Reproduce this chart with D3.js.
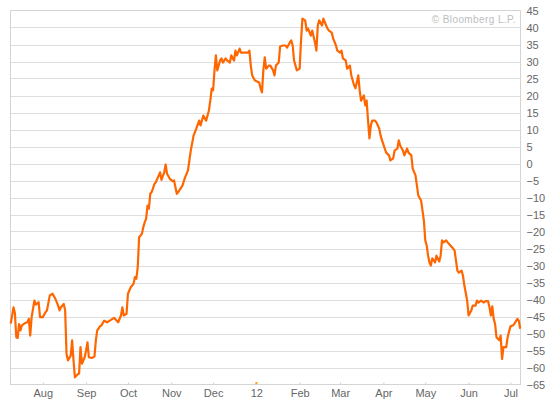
<!DOCTYPE html>
<html>
<head>
<meta charset="utf-8">
<script src="https://cdn.jsdelivr.net/npm/d3@7/dist/d3.min.js"></script>
<style>
  html, body { margin: 0; padding: 0; background: #fff; }
  svg { display: block; }
  text { font-family: "Liberation Sans", Arial, sans-serif; }
</style>
</head>
<body>
<svg id="chart" width="560" height="400"></svg>
<script>
// ---- data ----
const dates = [
"2011-07-09","2011-07-11","2011-07-12","2011-07-13","2011-07-14","2011-07-15","2011-07-16","2011-07-17","2011-07-19","2011-07-21",
"2011-07-22","2011-07-23","2011-07-24","2011-07-26","2011-07-27","2011-07-29","2011-07-30",
"2011-08-01","2011-08-03","2011-08-04","2011-08-06","2011-08-08","2011-08-10","2011-08-12","2011-08-13","2011-08-14","2011-08-16",
"2011-08-17","2011-08-18","2011-08-19","2011-08-21","2011-08-22","2011-08-23","2011-08-24","2011-08-26","2011-08-27","2011-08-28",
"2011-08-29","2011-08-31",
"2011-09-01","2011-09-02","2011-09-03","2011-09-05","2011-09-07","2011-09-08","2011-09-09","2011-09-11","2011-09-12","2011-09-14",
"2011-09-16","2011-09-18","2011-09-21","2011-09-24","2011-09-26","2011-09-27","2011-09-28","2011-09-30",
"2011-10-01","2011-10-03","2011-10-05","2011-10-06","2011-10-07","2011-10-08","2011-10-09","2011-10-11","2011-10-12","2011-10-13",
"2011-10-14","2011-10-15","2011-10-16","2011-10-17","2011-10-18","2011-10-20","2011-10-21","2011-10-22","2011-10-24","2011-10-25",
"2011-10-27","2011-10-28","2011-10-29","2011-10-31",
"2011-11-02","2011-11-03","2011-11-05","2011-11-06","2011-11-09","2011-11-11","2011-11-13","2011-11-15","2011-11-17","2011-11-19",
"2011-11-21","2011-11-22","2011-11-24","2011-11-26","2011-11-28","2011-11-29","2011-11-30",
"2011-12-01","2011-12-02","2011-12-03","2011-12-04","2011-12-06","2011-12-07","2011-12-08","2011-12-10","2011-12-11","2011-12-13",
"2011-12-14","2011-12-16","2011-12-17","2011-12-18","2011-12-20","2011-12-21","2011-12-24","2011-12-26","2011-12-27","2011-12-28",
"2011-12-29","2011-12-31",
"2012-01-03","2012-01-04","2012-01-05","2012-01-06","2012-01-07","2012-01-08","2012-01-10","2012-01-11","2012-01-13","2012-01-14",
"2012-01-15","2012-01-17","2012-01-18","2012-01-20","2012-01-22","2012-01-23","2012-01-25","2012-01-26","2012-01-27","2012-01-28",
"2012-01-30",
"2012-02-01","2012-02-02","2012-02-03","2012-02-05","2012-02-06","2012-02-07","2012-02-09","2012-02-10","2012-02-12","2012-02-13",
"2012-02-14","2012-02-15","2012-02-17","2012-02-18","2012-02-20","2012-02-21","2012-02-22","2012-02-24","2012-02-25","2012-02-27",
"2012-02-28","2012-03-01",
"2012-03-02","2012-03-03","2012-03-05","2012-03-06","2012-03-08","2012-03-09","2012-03-11","2012-03-12","2012-03-14","2012-03-15",
"2012-03-16","2012-03-18","2012-03-19","2012-03-20","2012-03-21","2012-03-22","2012-03-23","2012-03-24","2012-03-26","2012-03-27",
"2012-03-29","2012-03-30","2012-03-31",
"2012-04-02","2012-04-03","2012-04-05","2012-04-06","2012-04-08","2012-04-09","2012-04-11","2012-04-12","2012-04-13","2012-04-15",
"2012-04-16","2012-04-18","2012-04-19","2012-04-21","2012-04-22","2012-04-24","2012-04-25","2012-04-26","2012-04-28","2012-04-29",
"2012-04-30",
"2012-05-01","2012-05-02","2012-05-03","2012-05-04","2012-05-05","2012-05-06","2012-05-08","2012-05-09","2012-05-11","2012-05-12",
"2012-05-13","2012-05-14","2012-05-16","2012-05-17","2012-05-19","2012-05-21","2012-05-22","2012-05-24","2012-05-25","2012-05-27",
"2012-05-28","2012-05-29","2012-05-31",
"2012-06-01","2012-06-03","2012-06-04","2012-06-06","2012-06-07","2012-06-08","2012-06-10","2012-06-12","2012-06-13","2012-06-15",
"2012-06-16","2012-06-17","2012-06-18","2012-06-19","2012-06-20","2012-06-21","2012-06-23","2012-06-24","2012-06-25","2012-06-26",
"2012-06-28","2012-06-29",
"2012-07-01","2012-07-03","2012-07-04","2012-07-06","2012-07-07","2012-07-08"
];
const values = [
-47.1,-42.3,-44.0,-51.1,-51.3,-47.2,-49.1,-47.6,-47.0,-46.7,
-45.7,-50.6,-45.2,-40.3,-41.5,-40.8,-45.2,
-45.2,-43.7,-43.2,-38.8,-38.3,-39.8,-41.8,-43.2,-42.3,-41.3,
-43.2,-56.0,-57.9,-56.5,-52.0,-57.9,-62.9,-62.0,-61.8,-54.0,
-58.9,-57.0,
-55.0,-52.6,-57.0,-57.2,-56.8,-52.0,-49.1,-47.9,-47.6,-46.2,
-46.7,-46.2,-45.4,-46.7,-44.7,-42.3,-44.7,-44.2,
-38.3,-36.4,-35.4,-33.4,-33.9,-30.5,-21.7,-20.7,-18.7,-17.3,
-16.3,-12.4,-13.3,-8.9,-8.4,-6.0,-5.5,-4.5,-2.6,-4.8,
-2.6,-0.3,-3.0,-4.5,
-5.2,-5.0,-8.9,-8.4,-6.5,-4.0,-2.0,3.8,8.2,10.3,
12.6,11.2,14.1,12.6,15.6,18.5,22.0,
21.5,27.4,31.8,27.4,30.3,30.9,29.7,30.9,30.3,29.7,
31.8,30.3,33.2,31.8,33.8,32.6,32.6,32.6,33.2,28.8,
25.9,24.4,
23.8,22.1,20.9,27.4,31.2,27.9,28.8,28.8,27.4,25.9,
28.8,29.7,34.4,34.7,34.7,34.1,35.6,36.2,34.7,30.3,
27.4,
27.9,36.2,42.6,42.1,39.1,39.7,37.6,39.1,35.6,33.2,
40.6,42.1,40.6,42.6,40.6,39.7,39.1,38.5,36.8,34.7,
33.2,32.6,
33.2,30.9,30.3,27.9,28.8,25.9,23.0,22.1,25.9,21.5,
18.5,20.0,17.1,18.5,12.6,7.4,11.2,12.6,12.6,12.1,
10.3,8.2,6.8,
4.4,3.2,2.4,0.9,1.5,3.8,4.4,6.8,5.3,3.8,
2.4,4.4,3.2,2.4,-1.5,-3.5,-6.5,-9.4,-10.9,-13.8,
-16.8,
-22.6,-24.1,-27.1,-29.1,-30.0,-27.9,-29.1,-27.1,-28.8,-27.1,
-22.6,-23.2,-22.6,-23.2,-24.1,-25.0,-25.6,-31.5,-32.1,-31.5,
-33.0,-35.9,-40.3,
-44.7,-43.2,-41.8,-41.8,-40.3,-40.9,-40.3,-40.9,-40.5,-40.5,
-42.3,-44.7,-42.0,-45.7,-47.2,-51.1,-52.0,-50.6,-57.5,-54.0,
-54.0,-51.1,
-47.9,-47.6,-47.0,-45.7,-46.2,-48.6
];
const monthTicks = ["2011-08-01","2011-09-01","2011-10-01","2011-11-01","2011-12-01","2012-01-01",
                    "2012-02-01","2012-03-01","2012-04-01","2012-05-01","2012-06-01","2012-07-01"];
const monthLabels = ["Aug","Sep","Oct","Nov","Dec","12","Feb","Mar","Apr","May","Jun","Jul"];
const yTicks = [45,40,35,30,25,20,15,10,5,0,-5,-10,-15,-20,-25,-30,-35,-40,-45,-50,-55,-60,-65];
const sourceText = "\u00A9 Bloomberg L.P.";

// ---- chart ----
(function () {
const parse = d3.timeParse("%Y-%m-%d");
const data = dates.map((d, i) => ({ date: parse(d), value: values[i] }));

const pLeft = 10.5, pRight = 520.5, pTop = 10.5, pBottom = 384.5;
const svg = d3.select("#chart");

const x = d3.scaleTime()
  .domain([parse("2011-07-09"), parse("2012-07-08")])
  .range([10.7, 520.2]);
const y = d3.scaleLinear().domain([-65, 45]).range([pBottom, pTop]);

// gridlines
svg.append("g")
  .selectAll("line")
  .data(yTicks.filter(v => v !== 45 && v !== -65))
  .join("line")
  .attr("x1", pLeft).attr("x2", pRight)
  .attr("y1", d => Math.round(y(d)) + 0.5).attr("y2", d => Math.round(y(d)) + 0.5)
  .attr("stroke", "#dedede").attr("stroke-width", 1);

// frame
svg.append("rect")
  .attr("x", pLeft).attr("y", pTop)
  .attr("width", pRight - pLeft).attr("height", pBottom - pTop)
  .attr("fill", "none").attr("stroke", "#d4d4d4").attr("stroke-width", 1);

// x axis (ticks + labels)
const xAxis = d3.axisBottom(x)
  .tickValues(monthTicks.map(parse))
  .tickFormat((d, i) => monthLabels[i])
  .tickSizeInner(-2).tickSizeOuter(0).tickPadding(4.5);
const gx = svg.append("g").attr("transform", `translate(0,${pBottom})`).call(xAxis);
gx.select(".domain").remove();
gx.selectAll(".tick line").attr("stroke", "#cfcfcf");
gx.selectAll(".tick text")
  .attr("fill", "#666").attr("font-size", 11)
  .attr("font-family", "'Liberation Sans', Arial, sans-serif");

// year marker
svg.append("rect")
  .attr("x", x(parse("2012-01-01")) - 1).attr("y", pBottom - 2.5)
  .attr("width", 2).attr("height", 2).attr("fill", "#ffa500");

// y axis on right
const yAxis = d3.axisRight(y).tickValues(yTicks).tickSize(0).tickPadding(6);
const gy = svg.append("g").attr("transform", `translate(${pRight},0)`).call(yAxis);
gy.select(".domain").remove();
gy.selectAll(".tick text")
  .attr("fill", "#666").attr("font-size", 11)
  .attr("font-family", "'Liberation Sans', Arial, sans-serif");

// line
const line = d3.line().x(d => x(d.date)).y(d => y(d.value));
svg.append("path")
  .datum(data)
  .attr("d", line)
  .attr("fill", "none")
  .attr("stroke", "#ff6600")
  .attr("stroke-width", 2.2)
  .attr("stroke-linejoin", "round");

// source
svg.append("text")
  .attr("x", 516).attr("y", 23)
  .attr("text-anchor", "end")
  .attr("font-size", 10)
  .attr("letter-spacing", 0.4)
  .attr("fill", "#bdbdbd")
  .text(sourceText);
})();
</script>
</body>
</html>
